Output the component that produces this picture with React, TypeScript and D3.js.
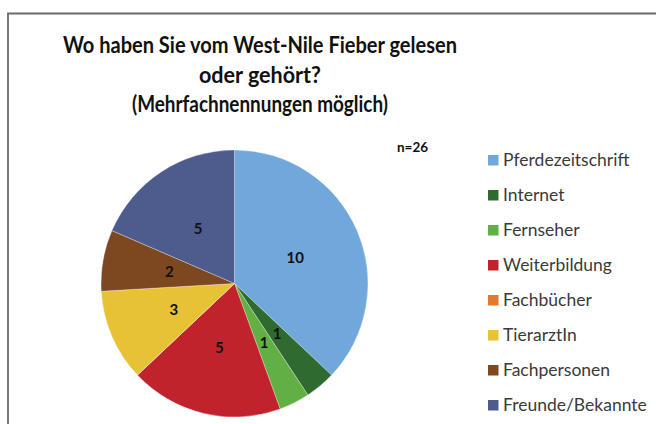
import React from "react";
import * as d3 from "d3";

const categories = [
  "Pferdezeitschrift",
  "Internet",
  "Fernseher",
  "Weiterbildung",
  "Fachbücher",
  "TierarztIn",
  "Fachpersonen",
  "Freunde/Bekannte",
];
const values = [10, 1, 1, 5, 0, 3, 2, 5];
const colors = [
  "#70a8dc",
  "#2f6a31",
  "#62b044",
  "#c1232d",
  "#e17a2b",
  "#e8c235",
  "#7d4820",
  "#4e5c8d",
];
const titleLines = [
  "Wo haben Sie vom West-Nile Fieber gelesen",
  "oder gehört?",
  "(Mehrfachnennungen möglich)",
];
const titleWidths = [394, 122, 256];
const nLabel = "n=26";

const FONT = "Lato, 'Open Sans', sans-serif";

export default function App() {
  const W = 656;
  const H = 424;
  const cx = 234.5;
  const cy = 283.5;
  const R = 133.5;

  const data = categories.map((c, i) => ({ c, v: values[i], color: colors[i] }));
  const pie = d3
    .pie<{ c: string; v: number; color: string }>()
    .value((d) => d.v)
    .sort(null);
  const arcs = pie(data);
  const arc = d3
    .arc<d3.PieArcDatum<{ c: string; v: number; color: string }>>()
    .innerRadius(0)
    .outerRadius(R);
  const labelArc = d3
    .arc<d3.PieArcDatum<{ c: string; v: number; color: string }>>()
    .innerRadius(R * 0.495)
    .outerRadius(R * 0.495);

  const legendY = d3
    .scalePoint<string>()
    .domain(categories)
    .range([160, 405]);

  return (
    <svg
      width={W}
      height={H}
      style={{ position: "absolute", left: 0, top: 0, background: "#fff" }}
    >
      <rect x={0} y={0} width={W} height={H} fill="#fff" />
      <path d={`M8,${H} L8,13.5 L${W},13.5`} fill="none" stroke="#6b6b6b" strokeWidth={1.8} />
      {titleLines.map((t, i) => (
        <text
          key={i}
          x={260}
          y={53 + i * 29.5}
          textAnchor="middle"
          fontFamily={FONT}
          fontWeight={700}
          fontSize={23.5}
          textLength={titleWidths[i]}
          lengthAdjust="spacingAndGlyphs"
          fill="#111"
        >
          {t}
        </text>
      ))}
      <text x={397} y={152} fontFamily={FONT} fontWeight={700} fontSize={13.5} fill="#111">
        {nLabel}
      </text>
      <g>
        {arcs.map((a, i) => (
          <path key={i} d={arc(a) || ""} transform={`translate(${cx},${cy})`} fill={a.data.color} stroke="#ffffff" strokeOpacity={0.5} strokeWidth={0.6} />
        ))}
        {arcs
          .filter((a) => a.data.v > 0)
          .map((a, i) => {
            const [x, y] = labelArc.centroid(a);
            return (
              <text
                key={i}
                x={cx + x}
                y={cy + y}
                dy="0.35em"
                textAnchor="middle"
                fontFamily={FONT}
                fontWeight={700}
                fontSize={15}
                fill="#111"
              >
                {a.data.v}
              </text>
            );
          })}
      </g>
      <g>
        {categories.map((c, i) => (
          <g key={c} transform={`translate(0,${legendY(c)})`}>
            <rect x={488} y={-5} width={10.5} height={10.5} fill={colors[i]} />
            <text
              x={503}
              y={0}
              dy="0.36em"
              fontFamily={FONT}
              fontSize={17.5}
              fill="#3a3a3a"
            >
              {c}
            </text>
          </g>
        ))}
      </g>
    </svg>
  );
}
